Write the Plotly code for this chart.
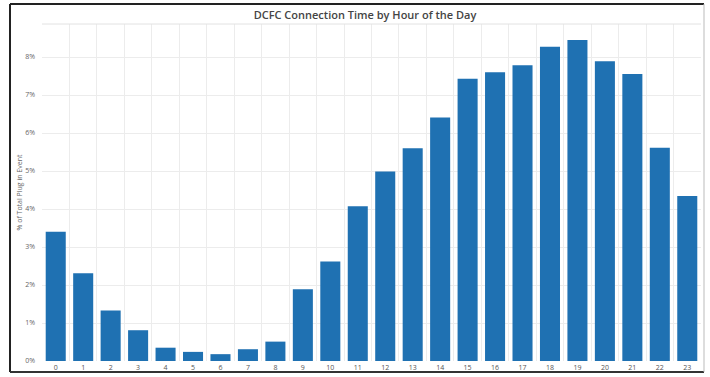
import plotly.graph_objects as go

hours = [str(h) for h in range(24)]
pct_values = [3.40, 2.31, 1.33, 0.81, 0.35, 0.24, 0.18, 0.31, 0.51, 1.89, 2.62, 4.07,
              4.99, 5.60, 6.41, 7.43, 7.60, 7.78, 8.27, 8.45, 7.89, 7.55, 5.61, 4.34]
y_ticks = [0, 1, 2, 3, 4, 5, 6, 7, 8]
y_tick_labels = ["0%", "1%", "2%", "3%", "4%", "5%", "6%", "7%", "8%"]

W, H = 710, 377
L, R, T, B = 42, 701, 24, 361


def px(x):
    return (x - L) / (R - L)


def py(y):
    return (B - y) / (B - T)


fig = go.Figure(go.Bar(
    x=hours, y=pct_values, marker=dict(color="#1f71b2", line=dict(width=0)),
    width=0.73,
))

fig.update_layout(
    width=W, height=H,
    margin=dict(l=L, r=W - R, t=T, b=H - B, pad=0, autoexpand=False),
    paper_bgcolor="white", plot_bgcolor="white",
    showlegend=False,
    font=dict(family="Open Sans, Arial, sans-serif", color="#666"),
    title=dict(text="DCFC Connection Time by Hour of the Day",
               x=365 / W, xanchor="center", y=1 - 15 / H, yanchor="middle",
               font=dict(size=11, color="#444", family="Open Sans, Arial, sans-serif", weight=600)),
    xaxis=dict(type="category", tickson="boundaries", showgrid=True, gridcolor="#ececec",
               gridwidth=1, ticks="", tickfont=dict(size=7, color="#555"), showline=False,
               zeroline=False, ticklabelstandoff=1, automargin=False),
    yaxis=dict(range=[0, (B - T) / 38.0], tickvals=y_ticks, ticktext=y_tick_labels,
               showgrid=True, gridcolor="#ececec", gridwidth=1, zeroline=False,
               tickfont=dict(size=7, color="#666"), ticks="", ticklabelstandoff=6,
               automargin=False,
               title=dict(text="% of Total Plug in Event", font=dict(size=7, color="#666"),
                          standoff=1)),
    bargap=0.27,
)

shapes = [
    # faint line under title
    dict(type="line", xref="paper", yref="paper", x0=0, x1=1, y0=py(24), y1=py(24),
         line=dict(color="#e2e2e2", width=1)),
    # document frame
    dict(type="line", xref="paper", yref="paper", x0=px(10), x1=px(704), y0=py(4), y1=py(4),
         line=dict(color="#222", width=2)),
    dict(type="line", xref="paper", yref="paper", x0=px(10), x1=px(10), y0=py(4), y1=py(372),
         line=dict(color="#222", width=2)),
    dict(type="line", xref="paper", yref="paper", x0=px(10), x1=px(704), y0=py(372), y1=py(372),
         line=dict(color="#333", width=2)),
    dict(type="line", xref="paper", yref="paper", x0=px(704), x1=px(704), y0=py(4), y1=py(372),
         line=dict(color="#bbb", width=1)),
]
fig.update_layout(shapes=shapes)

fig.write_html("out.html", config={"displayModeBar": False},
               post_script="document.body.style.margin='0';document.body.style.overflow='hidden';")
